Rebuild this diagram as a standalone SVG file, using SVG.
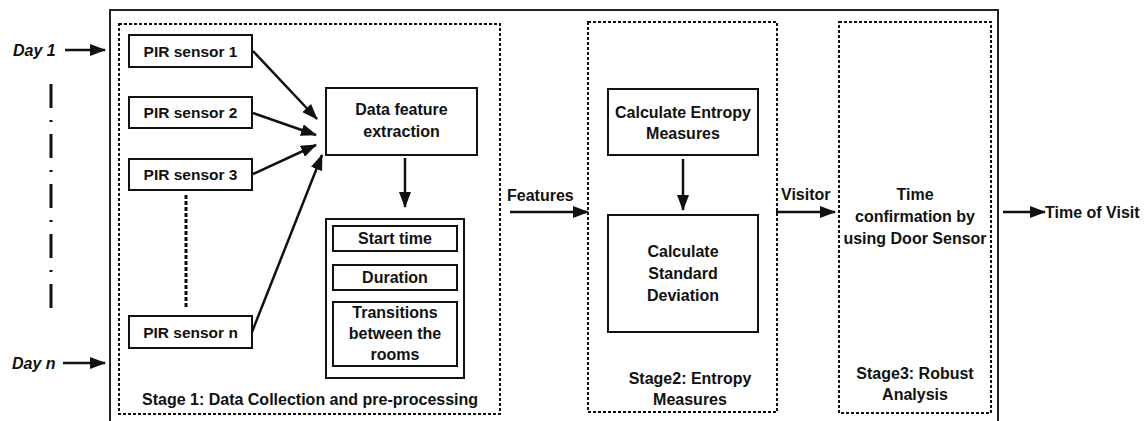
<svg xmlns="http://www.w3.org/2000/svg" width="1146" height="421" viewBox="0 0 1146 421">
<style>
text{font-family:"Liberation Sans",Arial,sans-serif;font-weight:bold;font-size:16px;fill:#111;text-anchor:middle}
.box{fill:#fff;stroke:#111;stroke-width:2}
.dot{fill:none;stroke:#111;stroke-width:2;stroke-dasharray:3 2}
.ln{stroke:#111;stroke-width:2.5;fill:none}
.it{font-style:italic;text-anchor:start}
.st{text-anchor:start}
</style>
<defs>
<marker id="ah" markerUnits="userSpaceOnUse" markerWidth="16" markerHeight="12" refX="15" refY="6" orient="auto">
<path d="M0,0 L16,6 L0,12 Z" fill="#111"/>
</marker>
</defs>
<rect width="1146" height="421" fill="#fff"/>
<g id="outer"><rect x="110" y="10" width="888" height="420" fill="none" stroke="#222" stroke-width="2"/></g>
<g id="stage1">
<rect class="dot" x="119" y="24" width="381" height="390"/>
<text class="st" x="142" y="405">Stage 1: Data Collection and pre-processing</text>
</g>
<g id="stage2">
<rect class="dot" x="588" y="22" width="189" height="390"/>
<text x="690" y="383.5">Stage2: Entropy</text>
<text x="690" y="404.5">Measures</text>
</g>
<g id="stage3">
<rect class="dot" x="839" y="22" width="152" height="391"/>
<text x="915" y="200">Time</text>
<text x="915" y="222">confirmation by</text>
<text x="915" y="244">using Door Sensor</text>
<text x="915" y="378.5">Stage3: Robust</text>
<text x="915" y="400">Analysis</text>
</g>
<g id="day1"><text class="it" x="13" y="55.5">Day 1</text></g>
<g id="dayn"><text class="it" x="12" y="368.5">Day n</text></g>
<g id="pir1"><rect class="box" x="129" y="35" width="123" height="32"/><text x="190.5" y="56.5" style="font-size:15.5px">PIR sensor 1</text></g>
<g id="pir2"><rect class="box" x="129" y="97" width="123" height="31"/><text x="190.5" y="118" style="font-size:15.5px">PIR sensor 2</text></g>
<g id="pir3"><rect class="box" x="129" y="159" width="123" height="31"/><text x="190.5" y="180" style="font-size:15.5px">PIR sensor 3</text></g>
<g id="pirn"><rect class="box" x="129" y="316" width="123" height="32"/><text x="190.5" y="337.5" style="font-size:15.5px">PIR sensor n</text></g>
<g id="dfe"><rect class="box" x="326" y="88" width="151" height="67"/><text x="401.5" y="115">Data feature</text><text x="401.5" y="137">extraction</text></g>
<g id="features">
<rect class="box" x="326" y="219" width="138" height="159"/>
<rect class="box" x="333" y="226" width="124" height="25"/><text x="395" y="243.5">Start time</text>
<rect class="box" x="333" y="265" width="124" height="25"/><text x="395" y="282.5">Duration</text>
<rect class="box" x="333" y="302" width="124" height="64"/><text x="395" y="317.5">Transitions</text><text x="395" y="339">between the</text><text x="395" y="360">rooms</text>
</g>
<g id="entropy"><rect class="box" x="608" y="89" width="150" height="66"/><text x="683" y="117.5">Calculate Entropy</text><text x="683" y="139">Measures</text></g>
<g id="stddev"><rect class="box" x="608" y="215" width="150" height="117"/><text x="683" y="257">Calculate</text><text x="683" y="279">Standard</text><text x="683" y="301">Deviation</text></g>
<g id="labels">
<text class="st" x="507" y="200.5">Features</text>
<text class="st" x="781" y="200">Visitor</text>
<text class="st" x="1045" y="218">Time of Visit</text>
</g>
<g id="connectors">
<line class="ln" x1="65" y1="50" x2="105" y2="50" marker-end="url(#ah)"/>
<line class="ln" x1="63" y1="363" x2="105" y2="363" marker-end="url(#ah)"/>
<line x1="51" y1="84" x2="51" y2="310" stroke="#111" stroke-width="3" stroke-dasharray="24 12 2 12"/>
<line x1="186" y1="195" x2="186" y2="307" stroke="#111" stroke-width="3" stroke-dasharray="4 2"/>
<line class="ln" x1="253" y1="51" x2="317" y2="119" marker-end="url(#ah)"/>
<line class="ln" x1="253" y1="113" x2="316" y2="135" marker-end="url(#ah)"/>
<line class="ln" x1="253" y1="174" x2="316" y2="145" marker-end="url(#ah)"/>
<line class="ln" x1="252" y1="332" x2="322" y2="155" marker-end="url(#ah)"/>
<line class="ln" x1="405" y1="158" x2="405" y2="207" marker-end="url(#ah)"/>
<line class="ln" x1="683" y1="159" x2="683" y2="210" marker-end="url(#ah)"/>
<line class="ln" x1="510" y1="212" x2="588" y2="212" marker-end="url(#ah)"/>
<line class="ln" x1="776" y1="212" x2="835" y2="212" marker-end="url(#ah)"/>
<line class="ln" x1="1003" y1="212" x2="1045" y2="212" marker-end="url(#ah)"/>
</g>
</svg>
